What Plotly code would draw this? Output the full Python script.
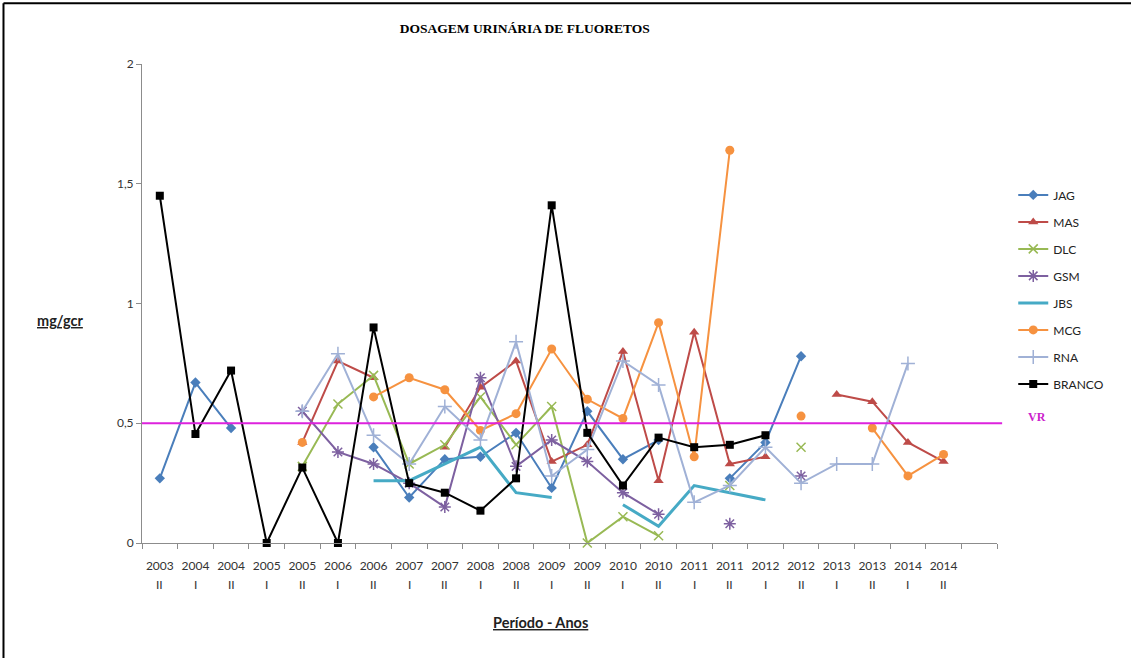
import plotly.graph_objects as go

# Collection periods (year / semester)
years = ["2003", "2004", "2004", "2005", "2005", "2006", "2006", "2007", "2007", "2008",
         "2008", "2009", "2009", "2010", "2010", "2011", "2011", "2012", "2012", "2013",
         "2013", "2014", "2014"]
halves = ["II", "I", "II", "I", "II", "I", "II", "I", "II", "I", "II", "I", "II", "I",
          "II", "I", "II", "I", "II", "I", "II", "I", "II"]

# Urinary fluoride (mg/gcr) per worker; None = not collected
jag = [0.27, 0.67, 0.48, None, None, None, 0.40, 0.19, 0.35, 0.36, 0.46, 0.23, 0.55,
       0.35, 0.43, None, 0.27, 0.42, 0.78, None, None, None, None]
mas = [None, None, None, None, 0.42, 0.76, 0.69, None, 0.40, 0.65, 0.76, 0.34, 0.41,
       0.80, 0.26, 0.88, 0.33, 0.36, None, 0.62, 0.59, 0.42, 0.34]
dlc = [None, None, None, None, 0.32, 0.58, 0.70, 0.33, 0.41, 0.61, 0.41, 0.57, 0.0,
       0.11, 0.03, None, 0.24, None, 0.40, None, None, None, None]
gsm = [None, None, None, None, 0.55, 0.38, 0.33, 0.25, 0.15, 0.69, 0.32, 0.43, 0.34,
       0.21, 0.12, None, 0.08, None, 0.28, None, None, None, None]
jbs = [None, None, None, None, None, None, 0.26, 0.26, 0.33, 0.40, 0.21, 0.19, None,
       0.16, 0.07, 0.24, 0.21, 0.18, None, None, None, None, None]
mcg = [None, None, None, None, 0.42, None, 0.61, 0.69, 0.64, 0.47, 0.54, 0.81, 0.60,
       0.52, 0.92, 0.36, 1.64, None, 0.53, None, 0.48, 0.28, 0.37]
rna = [None, None, None, None, 0.55, 0.79, 0.45, 0.33, 0.57, 0.43, 0.84, 0.28, 0.39,
       0.76, 0.66, 0.17, 0.24, 0.40, 0.25, 0.33, 0.33, 0.75, None]
branco = [1.45, 0.455, 0.72, 0.0, 0.315, 0.0, 0.90, 0.25, 0.21, 0.135, 0.27, 1.41, 0.46,
          0.24, 0.44, 0.40, 0.41, 0.45, None, None, None, None, None]

vr_level = 0.5
y_ticks = [0, 0.5, 1, 1.5, 2]

x = list(range(len(years)))
n_slots = len(years) + 1  # one empty slot after the last period

series = [
    ("JAG", jag, "#4A7EBB", dict(symbol="diamond", size=8), 2),
    ("MAS", mas, "#BE4B48", dict(symbol="triangle-up", size=9), 2),
    ("DLC", dlc, "#98B954", dict(symbol="x-thin-open", size=9, line=dict(width=1.5, color="#98B954")), 2),
    ("GSM", gsm, "#7D60A0", dict(symbol="asterisk-open", size=10, line=dict(width=1.5, color="#7D60A0")), 2),
    ("JBS", jbs, "#46AAC5", dict(symbol="circle", size=1, opacity=0), 3),
    ("MCG", mcg, "#F69240", dict(symbol="circle", size=9), 2),
    ("RNA", rna, "#A0B1D6", dict(symbol="cross-thin-open", size=10, line=dict(width=1.5, color="#A0B1D6")), 2),
    ("BRANCO", branco, "#000000", dict(symbol="square", size=8), 2),
]

fig = go.Figure()
for name, vals, color, marker, lw in series:
    m = dict(color=color)
    m.update(marker)
    fig.add_trace(go.Scatter(
        x=x, y=vals, name=name, mode="lines" if name == "JBS" else "lines+markers",
        line=dict(color=color, width=lw), marker=m, connectgaps=False,
        cliponaxis=False, legendgroup=name,
    ))

axis_grey = "#8c8c8c"
sans = "Lato, Open Sans, sans-serif"
tick_font = dict(family=sans, size=12, color="#333")

# semester numerals under each year label
half_labels = [
    dict(text=h, x=i, xref="x", yref="paper", y=-0.086, xanchor="center", yanchor="middle",
         showarrow=False, font=tick_font)
    for i, h in enumerate(halves)
]

fig.update_layout(
    width=1131, height=658,
    margin=dict(l=142, r=134, t=64, b=115),
    paper_bgcolor="white", plot_bgcolor="white",
    separators=", ",
    showlegend=True,
    legend=dict(x=1.019, y=0.757, xanchor="left", yanchor="top",
                font=dict(family=sans, size=12, color="#222"),
                tracegroupgap=8, bgcolor="rgba(0,0,0,0)"),
    title=dict(text="<b>DOSAGEM URINÁRIA DE FLUORETOS</b>", x=0.464, xanchor="center",
               y=0.957, yanchor="middle",
               font=dict(family="Liberation Serif, serif", size=13.5, color="#000")),
    xaxis=dict(range=[-0.5, n_slots - 0.5], showgrid=False, zeroline=False,
               showline=True, linecolor=axis_grey, linewidth=1,
               tickmode="array", tickvals=x, ticktext=years, ticks="",
               ticklabelstandoff=12, tickfont=tick_font,
               minor=dict(tickmode="array", tickvals=[i - 0.5 for i in range(n_slots + 1)],
                          ticks="outside", ticklen=5, tickcolor=axis_grey)),
    yaxis=dict(range=[0, 2], showgrid=False, zeroline=False, showline=True,
               linecolor=axis_grey, linewidth=1, tickmode="array", tickvals=y_ticks,
               ticks="outside", ticklen=5, tickcolor=axis_grey, tickfont=tick_font),
    shapes=[
        dict(type="line", xref="x domain", yref="y", x0=0, x1=1.006, y0=vr_level, y1=vr_level,
             line=dict(color="#DD22DD", width=2), layer="above"),
        dict(type="line", xref="paper", yref="paper", x0=-0.162, x1=1.157, y0=1.127, y1=1.127,
             line=dict(color="#000", width=2)),
        dict(type="line", xref="paper", yref="paper", x0=-0.162, x1=-0.162, y0=1.127, y1=-0.24,
             line=dict(color="#000", width=2)),
    ],
    annotations=half_labels + [
        dict(text="<b><u>mg/gcr</u></b>", xref="paper", yref="paper", x=-0.096, y=0.465,
             xanchor="center", yanchor="middle", showarrow=False,
             font=dict(family=sans, size=14.5, color="#222")),
        dict(text="<b><u>Período - Anos</u></b>", xref="paper", yref="paper", x=0.466, y=-0.165,
             xanchor="center", yanchor="middle", showarrow=False,
             font=dict(family=sans, size=14.5, color="#222")),
        dict(text="<b>VR</b>", xref="paper", yref="paper", x=1.047, y=0.263,
             xanchor="center", yanchor="middle", showarrow=False,
             font=dict(family="Liberation Serif, serif", size=12, color="#CC22CC")),
    ],
)

fig.write_html("out.html")
